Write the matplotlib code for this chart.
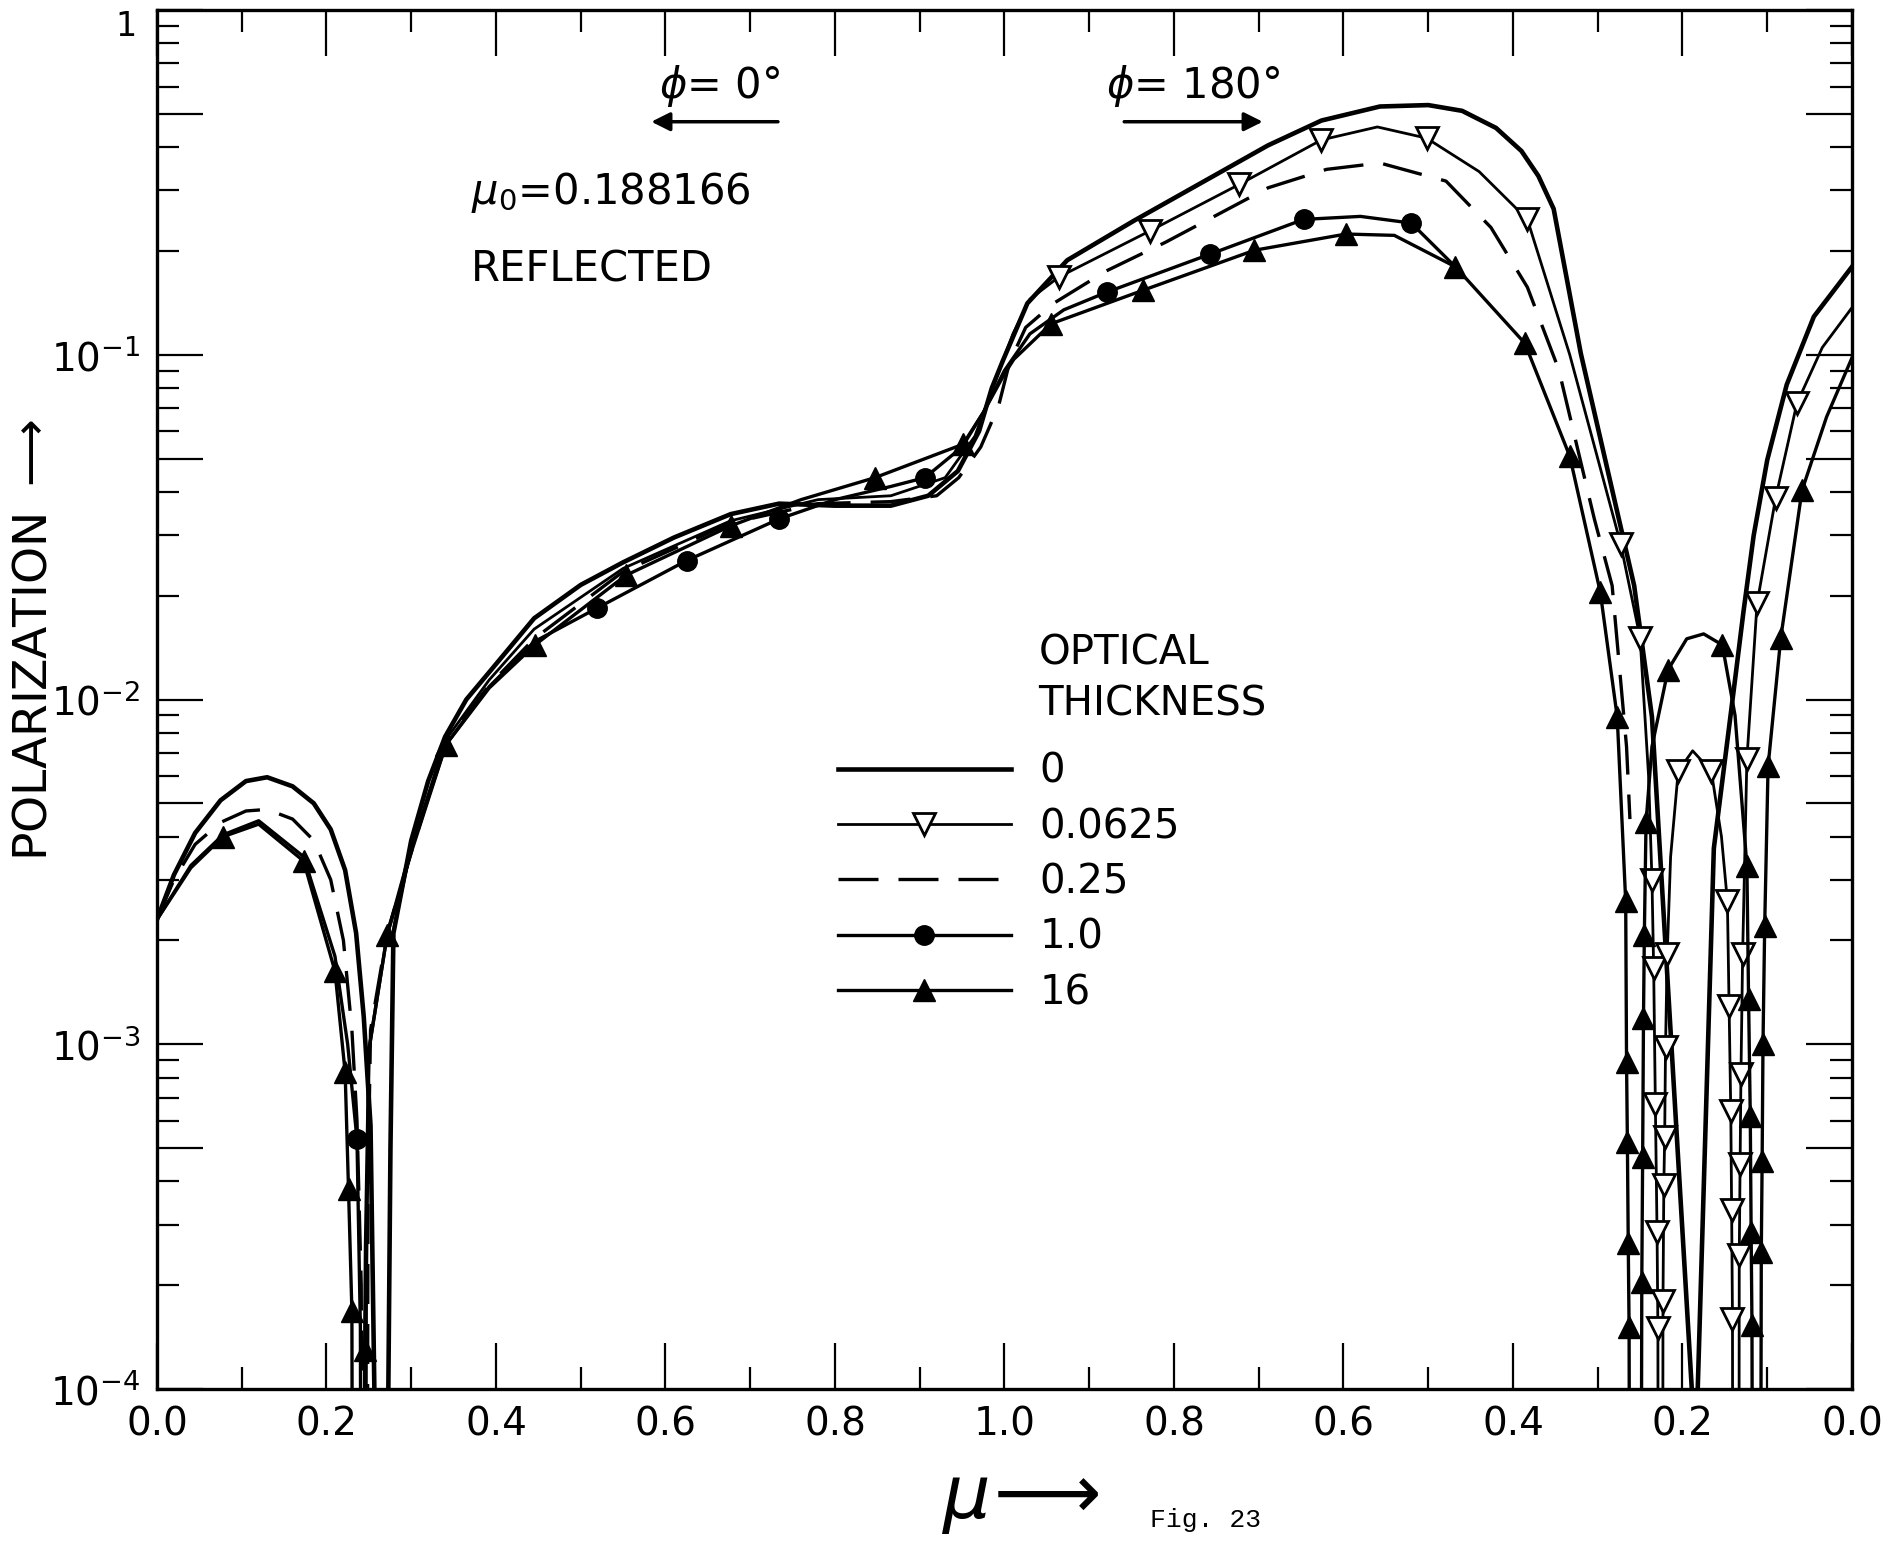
import matplotlib
matplotlib.use('Agg')
import matplotlib.pyplot as plt

plt.rcParams['font.family'] = 'DejaVu Sans'
plt.rcParams['mathtext.fontset'] = 'dejavusans'

# x runs 0 -> 1 (phi = 0 deg, mu = x) and 1 -> 2 (phi = 180 deg, mu = 2 - x)
x_major = [0.0, 0.2, 0.4, 0.6, 0.8, 1.0, 1.2, 1.4, 1.6, 1.8, 2.0]
x_labels = ['0.0', '0.2', '0.4', '0.6', '0.8', '1.0', '0.8', '0.6', '0.4', '0.2', '0.0']
x_minor = [0.1, 0.3, 0.5, 0.7, 0.9, 1.1, 1.3, 1.5, 1.7, 1.9]
y_major = [1e-4, 5e-4, 1e-3, 5e-3, 1e-2, 5e-2, 1e-1, 5e-1, 1.0]
y_labels = [r'$10^{-4}$', '', r'$10^{-3}$', '', r'$10^{-2}$', '', r'$10^{-1}$', '', '']
y_minor = [m * d for d in (1e-4, 1e-3, 1e-2, 1e-1) for m in (2, 3, 4, 6, 7, 8, 9)]

legend_labels = ['0', '0.0625', '0.25', '1.0', '16']

# optical thickness 0
u_t0 = [0.000, 0.020, 0.045, 0.075, 0.105, 0.130, 0.160, 0.185, 0.205, 0.222,
        0.235, 0.244, 0.252, 0.2565, 0.259, 0.270, 0.273, 0.2755, 0.279, 0.300,
        0.320, 0.340, 0.365, 0.392, 0.445, 0.500, 0.550, 0.610, 0.677, 0.734,
        0.800, 0.866, 0.910, 0.945, 0.970, 0.985, 0.998, 1.027, 1.074, 1.153,
        1.232, 1.311, 1.374, 1.443, 1.500, 1.540, 1.580, 1.610, 1.630, 1.648,
        1.680, 1.743, 1.764, 1.811, 1.814, 1.816, 1.818, 1.837, 1.862, 1.872,
        1.884, 1.900, 1.923, 1.955, 2.000]
p_t0 = [2.3e-3, 3.1e-3, 4.1e-3, 5.1e-3, 5.8e-3, 5.95e-3, 5.6e-3, 5.0e-3, 4.2e-3, 3.2e-3,
        2.1e-3, 1.2e-3, 5.8e-4, 1.0e-4, 1e-6, 1e-6, 1.0e-4, 5.0e-4, 2.1e-3, 3.9e-3,
        5.8e-3, 7.8e-3, 1.0e-2, 1.2e-2, 1.72e-2, 2.15e-2, 2.5e-2, 2.95e-2, 3.45e-2, 3.7e-2,
        3.65e-2, 3.65e-2, 3.9e-2, 4.6e-2, 6.0e-2, 8.0e-2, 9.6e-2, 0.141, 0.188, 0.245,
        0.315, 0.405, 0.478, 0.525, 0.530, 0.510, 0.455, 0.390, 0.330, 0.265,
        0.101, 0.0214, 8.9e-3, 1.0e-4, 1e-6, 1e-6, 1.0e-4, 3.7e-3, 0.0114, 0.018,
        0.0299, 0.0495, 0.0819, 0.129, 0.180]

# optical thickness 0.0625
u_t1 = [0.280, 0.300, 0.340, 0.392, 0.445, 0.550, 0.677, 0.780, 0.866, 0.930,
        0.965, 0.990, 1.010, 1.030, 1.064, 1.172, 1.277, 1.374, 1.440, 1.498,
        1.560, 1.617, 1.667, 1.700, 1.727, 1.750, 1.760, 1.764, 1.766, 1.768,
        1.770, 1.771, 1.772, 1.776, 1.777, 1.778, 1.779, 1.780, 1.782, 1.786,
        1.795, 1.812, 1.834, 1.846, 1.853, 1.855, 1.857, 1.858, 1.859, 1.860,
        1.866, 1.867, 1.868, 1.869, 1.871, 1.876, 1.888, 1.910, 1.935, 1.965,
        2.000]
p_t1 = [2.2e-3, 3.7e-3, 7.6e-3, 1.14e-2, 1.6e-2, 2.4e-2, 3.3e-2, 3.8e-2, 3.9e-2, 4.4e-2,
        5.8e-2, 8.5e-2, 0.115, 0.145, 0.168, 0.229, 0.312, 0.420, 0.458, 0.425,
        0.340, 0.247, 0.100, 0.050, 0.0283, 0.0151, 6.0e-3, 3.0e-3, 1.66e-3, 6.7e-4,
        2.85e-4, 1.5e-4, 1e-6, 1e-6, 1.8e-4, 3.9e-4, 5.4e-4, 9.8e-4, 1.83e-3, 3.5e-3,
        6.2e-3, 7.1e-3, 6.2e-3, 4.0e-3, 2.6e-3, 1.29e-3, 6.4e-4, 3.3e-4, 1.6e-4, 1e-6,
        1e-6, 2.45e-4, 4.5e-4, 8.2e-4, 1.83e-3, 6.7e-3, 0.019, 0.0385, 0.0723, 0.105,
        0.137]
mu_t1 = [1.064, 1.172, 1.277, 1.374, 1.498, 1.617, 1.727, 1.750, 1.764, 1.766,
         1.768, 1.770, 1.771, 1.777, 1.778, 1.779, 1.780, 1.782, 1.795, 1.834,
         1.853, 1.855, 1.857, 1.858, 1.859, 1.867, 1.868, 1.869, 1.871, 1.876,
         1.888, 1.910, 1.935]
mp_t1 = [0.168, 0.229, 0.312, 0.420, 0.425, 0.247, 0.0283, 0.0151, 3.0e-3, 1.66e-3,
         6.7e-4, 2.85e-4, 1.5e-4, 1.8e-4, 3.9e-4, 5.4e-4, 9.8e-4, 1.83e-3, 6.2e-3, 6.2e-3,
         2.6e-3, 1.29e-3, 6.4e-4, 3.3e-4, 1.6e-4, 2.45e-4, 4.5e-4, 8.2e-4, 1.83e-3, 6.7e-3,
         0.019, 0.0385, 0.0723]

# optical thickness 0.25
u_t2 = [0.000, 0.020, 0.045, 0.075, 0.105, 0.130, 0.160, 0.185, 0.205, 0.220,
        0.230, 0.236, 0.241, 0.244, 0.247, 0.249, 0.252, 0.2715, 0.300, 0.340,
        0.392, 0.445, 0.550, 0.677, 0.780, 0.866, 0.920, 0.946, 0.972, 0.993,
        1.006, 1.025, 1.058, 1.120, 1.190, 1.311, 1.380, 1.443, 1.521, 1.574,
        1.617, 1.654, 1.696, 1.717, 1.734, 1.738]
p_t2 = [2.3e-3, 3.0e-3, 3.8e-3, 4.4e-3, 4.75e-3, 4.8e-3, 4.5e-3, 3.9e-3, 3.0e-3, 2.0e-3,
        1.1e-3, 6.0e-4, 2.0e-4, 1e-6, 1e-6, 4e-4, 1.1e-3, 2.1e-3, 3.6e-3, 7.5e-3,
        1.1e-2, 1.5e-2, 2.35e-2, 3.25e-2, 3.7e-2, 3.75e-2, 3.9e-2, 4.4e-2, 5.4e-2, 7.1e-2,
        0.095, 0.120, 0.141, 0.175, 0.212, 0.305, 0.345, 0.360, 0.319, 0.234,
        0.157, 0.0906, 0.0334, 0.0214, 7.3e-3, 4.5e-3]

# optical thickness 1.0
u_t3 = [0.000, 0.040, 0.078, 0.120, 0.173, 0.210, 0.225, 0.236, 0.240, 0.242,
        0.245, 0.247, 0.250, 0.2715, 0.300, 0.341, 0.392, 0.445, 0.519, 0.625,
        0.734, 0.800, 0.866, 0.906, 0.950, 0.975, 1.000, 1.030, 1.070, 1.121,
        1.243, 1.353, 1.420, 1.480, 1.532]
p_t3 = [2.3e-3, 3.3e-3, 4.05e-3, 4.45e-3, 3.5e-3, 1.8e-3, 1.0e-3, 5.3e-4, 1.5e-4, 1e-6,
        1e-6, 2e-4, 9.6e-4, 2.07e-3, 3.6e-3, 7.4e-3, 1.09e-2, 1.47e-2, 1.84e-2, 2.53e-2,
        3.34e-2, 3.8e-2, 4.15e-2, 4.4e-2, 5.4e-2, 6.8e-2, 9.0e-2, 0.115, 0.135, 0.152,
        0.196, 0.247, 0.252, 0.241, 0.180]
mu_t3 = [0.236, 0.519, 0.625, 0.734, 0.906, 1.121, 1.243, 1.353, 1.480]
mp_t3 = [5.3e-4, 1.84e-2, 2.53e-2, 3.34e-2, 4.4e-2, 0.152, 0.196, 0.247, 0.241]

# optical thickness 16
u_t4 = [0.000, 0.040, 0.078, 0.120, 0.173, 0.210, 0.222, 0.226, 0.230, 0.232,
        0.243, 0.245, 0.246, 0.250, 0.2715, 0.298, 0.341, 0.392, 0.446, 0.553,
        0.677, 0.760, 0.847, 0.951, 0.975, 1.000, 1.011, 1.055, 1.164, 1.295,
        1.403, 1.460, 1.532, 1.614, 1.667, 1.703, 1.723, 1.733, 1.734, 1.735,
        1.736, 1.737, 1.739, 1.750, 1.752, 1.753, 1.754, 1.755, 1.757, 1.764,
        1.783, 1.805, 1.825, 1.847, 1.862, 1.876, 1.878, 1.880, 1.881, 1.882,
        1.884, 1.891, 1.893, 1.894, 1.895, 1.897, 1.901, 1.916, 1.941, 1.970,
        2.000]
p_t4 = [2.3e-3, 3.25e-3, 4.0e-3, 4.35e-3, 3.4e-3, 1.63e-3, 8.3e-4, 3.8e-4, 1.68e-4, 1e-6,
        1e-6, 1.3e-4, 2.6e-4, 9.6e-4, 2.07e-3, 3.57e-3, 7.4e-3, 1.08e-2, 1.44e-2, 2.29e-2,
        3.19e-2, 3.8e-2, 4.4e-2, 5.5e-2, 6.8e-2, 8.8e-2, 0.097, 0.123, 0.154, 0.201,
        0.224, 0.222, 0.180, 0.108, 0.0508, 0.0205, 8.9e-3, 2.6e-3, 8.9e-4, 5.2e-4,
        2.65e-4, 1.51e-4, 1e-6, 1e-6, 2.05e-4, 4.7e-4, 1.19e-3, 2.07e-3, 4.4e-3, 7.3e-3,
        1.22e-2, 1.5e-2, 1.55e-2, 1.44e-2, 9.0e-3, 3.3e-3, 1.35e-3, 6.2e-4, 2.85e-4, 1.53e-4,
        1e-6, 1e-6, 2.5e-4, 4.6e-4, 1.0e-3, 2.2e-3, 6.4e-3, 1.51e-2, 0.0404, 0.066,
        0.098]
mu_t4 = [0.078, 0.173, 0.210, 0.222, 0.226, 0.230, 0.245, 0.2715, 0.341, 0.446,
         0.553, 0.677, 0.847, 0.951, 1.055, 1.164, 1.295, 1.403, 1.532, 1.614,
         1.667, 1.703, 1.723, 1.733, 1.734, 1.735, 1.736, 1.737, 1.752, 1.753,
         1.754, 1.755, 1.757, 1.783, 1.847, 1.876, 1.878, 1.880, 1.881, 1.882,
         1.893, 1.894, 1.895, 1.897, 1.901, 1.916, 1.941]
mp_t4 = [4.0e-3, 3.4e-3, 1.63e-3, 8.3e-4, 3.8e-4, 1.68e-4, 1.3e-4, 2.07e-3, 7.4e-3, 1.44e-2,
         2.29e-2, 3.19e-2, 4.4e-2, 5.5e-2, 0.123, 0.154, 0.201, 0.224, 0.180, 0.108,
         0.0508, 0.0205, 8.9e-3, 2.6e-3, 8.9e-4, 5.2e-4, 2.65e-4, 1.51e-4, 2.05e-4, 4.7e-4,
         1.19e-3, 2.07e-3, 4.4e-3, 1.22e-2, 1.44e-2, 3.3e-3, 1.35e-3, 6.2e-4, 2.85e-4, 1.53e-4,
         2.5e-4, 4.6e-4, 1.0e-3, 2.2e-3, 6.4e-3, 1.51e-2, 0.0404]

fig = plt.figure(figsize=(18.89, 15.43), dpi=100)
ax = fig.add_axes([0.0831, 0.0998, 0.8973, 0.8937])
ax.set_yscale('log')
ax.set_xlim(0, 2)
ax.set_ylim(1e-4, 1)

l0, = ax.plot(u_t0, p_t0, color='black', lw=3.3)
l1, = ax.plot(u_t1, p_t1, color='black', lw=2.0)
m1, = ax.plot(mu_t1, mp_t1, ls='none', marker='v', ms=16, mfc='white', mec='black', mew=2)
l2, = ax.plot(u_t2, p_t2, color='black', lw=2.4, dashes=(12, 6))
l3, = ax.plot(u_t3, p_t3, color='black', lw=2.4)
m3, = ax.plot(mu_t3, mp_t3, ls='none', marker='o', ms=14, color='black')
l4, = ax.plot(u_t4, p_t4, color='black', lw=2.4)
m4, = ax.plot(mu_t4, mp_t4, ls='none', marker='^', ms=16, color='black')

ax.set_xticks(x_major, x_labels)
ax.set_xticks(x_minor, minor=True)
ax.set_yticks(y_major, y_labels)
ax.set_yticks(y_minor, minor=True)
ax.tick_params(which='major', direction='in', top=True, right=True,
               length=33, width=1.6, labelsize=28, pad=12)
ax.tick_params(which='minor', direction='in', top=True, right=True,
               length=16, width=1.6)
for s in ax.spines.values():
    s.set_linewidth(2.4)
# label of the top decade, kept inside the figure
ax.text(-0.012, 1.0, '1', transform=ax.transAxes, fontsize=24,
        ha='right', va='top')

ax.legend([l0, (l1, m1), l2, (l3, m3), (l4, m4)], legend_labels,
          loc='upper left', bbox_to_anchor=(0.4016, 0.462), frameon=False,
          fontsize=29, handlelength=4.3, handletextpad=0.7, labelspacing=0.38,
          borderpad=0, borderaxespad=0)
ax.text(0.520, 0.515, 'OPTICAL\nTHICKNESS', transform=ax.transAxes,
        fontsize=29, ha='left', va='center', linespacing=1.35)

ax.text(0.185, 0.868, r'$\mu_0$=0.188166', transform=ax.transAxes,
        fontsize=30, ha='left', va='center')
ax.text(0.185, 0.812, 'REFLECTED', transform=ax.transAxes,
        fontsize=30, ha='left', va='center')

ax.text(0.332, 0.945, r'$\phi$= 0°', transform=ax.transAxes,
        fontsize=30, ha='center', va='center')
ax.annotate('', xy=(0.29, 0.919), xytext=(0.368, 0.919), xycoords='axes fraction',
            arrowprops=dict(arrowstyle='-|>', lw=2.5, color='black', mutation_scale=28))
ax.text(0.611, 0.945, r'$\phi$= 180°', transform=ax.transAxes,
        fontsize=30, ha='center', va='center')
ax.annotate('', xy=(0.654, 0.919), xytext=(0.569, 0.919), xycoords='axes fraction',
            arrowprops=dict(arrowstyle='-|>', lw=2.5, color='black', mutation_scale=28))

fig.text(0.018, 0.585, r'POLARIZATION $\longrightarrow$', rotation=90,
         fontsize=34, ha='center', va='center')
fig.text(0.54, 0.028, r'$\mu\!\longrightarrow$', fontsize=54, ha='center', va='center')
fig.text(0.638, 0.015, 'Fig. 23', family='Liberation Mono', fontsize=19,
         ha='center', va='center')

fig.savefig('out.png', dpi=100, facecolor='white')
